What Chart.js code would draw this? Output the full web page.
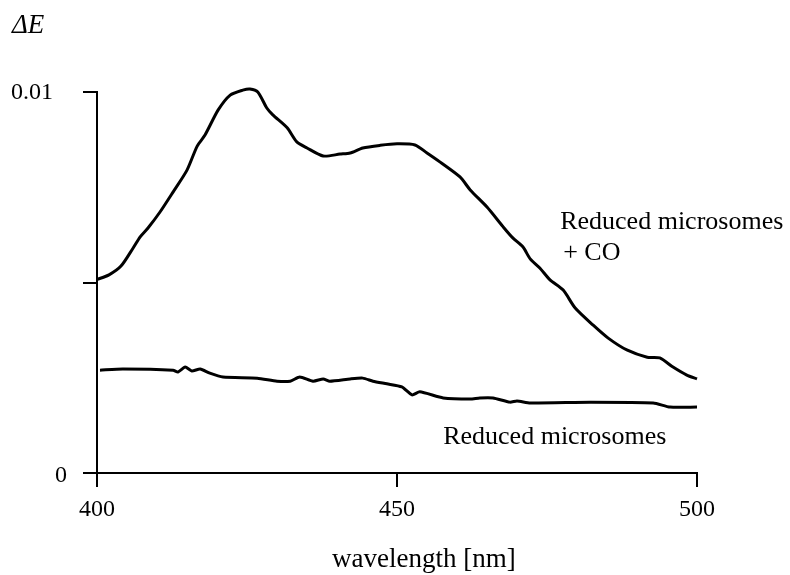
<!DOCTYPE html>
<html>
<head>
<meta charset="utf-8">
<script src="https://cdn.jsdelivr.net/npm/chart.js@4"></script>
<style>
  html, body { margin: 0; padding: 0; background: #fff; }
  #wrap { width: 790px; height: 575px; position: relative; }
</style>
</head>
<body>
<div id="wrap"><canvas id="c" width="790" height="575"></canvas></div>
<script>
// Reduced microsomes + CO
const coWavelength = [400, 402, 404, 406, 407.2, 408.5, 410.5, 412.7, 415, 416.7, 418, 420.2, 422.2, 424.3, 425.5, 426.8, 428.3, 429.3, 431.7, 433.3, 435, 437.7, 440.5, 442.2, 444.3, 447.2, 450, 453, 455, 457.2, 460.5, 462.2, 465, 467.7, 469.3, 471, 472.2, 473.8, 475.5, 477.7, 479.7, 482.7, 485.2, 488.3, 491.7, 493.8, 496, 498.3, 500];
const coValues = [0.00508, 0.00520, 0.00543, 0.00590, 0.00620, 0.00643, 0.00685, 0.00738, 0.00795, 0.00858, 0.00887, 0.00953, 0.00992, 0.01005, 0.01008, 0.01000, 0.00958, 0.00940, 0.00906, 0.00869, 0.00853, 0.00832, 0.00837, 0.00840, 0.00853, 0.00860, 0.00864, 0.00861, 0.00840, 0.00816, 0.00777, 0.00743, 0.00698, 0.00646, 0.00617, 0.00593, 0.00562, 0.00538, 0.00507, 0.00480, 0.00433, 0.00388, 0.00354, 0.00323, 0.00304, 0.00302, 0.00278, 0.00257, 0.00247];
// Reduced microsomes
const redWavelength = [400.5, 404.3, 412.7, 413.5, 414.7, 415.8, 417.2, 418.8, 421, 426.7, 430, 432.2, 433.8, 436, 437.7, 438.8, 442.2, 444.3, 446, 448.3, 450.8, 452.5, 453.8, 457.7, 462.2, 463.8, 466, 468.8, 470, 472.2, 482.2, 492.7, 495.5, 500];
const redValues = [0.00270, 0.00273, 0.00270, 0.00265, 0.00278, 0.00268, 0.00273, 0.00262, 0.00252, 0.00249, 0.00241, 0.00241, 0.00252, 0.00241, 0.00247, 0.00241, 0.00247, 0.00249, 0.00241, 0.00234, 0.00226, 0.00205, 0.00213, 0.00197, 0.00194, 0.00197, 0.00197, 0.00186, 0.00189, 0.00184, 0.00186, 0.00184, 0.00173, 0.00173];

const xTickValues = [400, 450, 500];
const xTickLabels = ['400', '450', '500'];
const yTickValues = [0, 0.005, 0.01];
const yTickLabels = ['0', '', '0.01'];
const seriesLabels = ['Reduced microsomes', '+ CO', 'Reduced microsomes'];
const xTitle = 'wavelength [nm]';
const yTitle = 'ΔE';

const SERIF = '"Liberation Serif", "DejaVu Serif", serif';

function pts(xs, ys) { return xs.map((x, i) => ({ x: x, y: ys[i] })); }

const textPlugin = {
  id: 'texts',
  afterDraw(chart) {
    const ctx = chart.ctx;
    const xs = chart.scales.x, ys = chart.scales.y;
    ctx.save();
    ctx.fillStyle = '#000';
    ctx.textBaseline = 'middle';
    // y tick labels
    ctx.font = '24px ' + SERIF;
    ctx.textAlign = 'right';
    yTickValues.forEach((v, i) => {
      if (!yTickLabels[i]) return;
      const y = ys.getPixelForValue(v);
      const xr = (v === 0) ? xs.left - 30 : xs.left - 44;
      ctx.fillText(yTickLabels[i], xr, y + (v === 0 ? 3 : 1));
    });
    // x tick labels
    ctx.textAlign = 'center';
    xTickValues.forEach((v, i) => {
      ctx.fillText(xTickLabels[i], xs.getPixelForValue(v), ys.bottom + 37);
    });
    // axis titles
    ctx.font = '27px ' + SERIF;
    ctx.textAlign = 'left';
    ctx.fillText(xTitle, xs.left + 235, ys.bottom + 87);
    ctx.font = 'italic 27px ' + SERIF;
    ctx.fillText(yTitle, 12, 26);
    // series labels
    ctx.font = '26px ' + SERIF;
    ctx.fillText(seriesLabels[0], xs.getPixelForValue(477.2), ys.getPixelForValue(0.00658));
    ctx.fillText(seriesLabels[1], xs.getPixelForValue(477.7), ys.getPixelForValue(0.00577));
    ctx.fillText(seriesLabels[2], xs.getPixelForValue(457.7), ys.getPixelForValue(0.00095));
    ctx.restore();
  }
};

new Chart(document.getElementById('c'), {
  type: 'line',
  data: {
    datasets: [
      { label: 'CO', data: pts(coWavelength, coValues), borderColor: '#000', borderWidth: 3, pointRadius: 0, tension: 0.25, clip: false, fill: false },
      { label: 'Reduced', data: pts(redWavelength, redValues), borderColor: '#000', borderWidth: 3, pointRadius: 0, tension: 0.2, clip: false, fill: false }
    ]
  },
  options: {
    responsive: false,
    animation: false,
    devicePixelRatio: 1,
    layout: { padding: { left: 83, top: 92, right: 93, bottom: 88 } },
    plugins: { legend: { display: false }, tooltip: { enabled: false } },
    scales: {
      x: {
        type: 'linear', min: 400, max: 500,
        afterBuildTicks: (s) => { s.ticks = xTickValues.map(v => ({ value: v })); },
        ticks: { display: false },
        grid: { display: true, drawOnChartArea: false, drawTicks: true, tickLength: 14, color: '#000', lineWidth: 2 },
        border: { display: true, color: '#000', width: 2 }
      },
      y: {
        type: 'linear', min: 0, max: 0.01,
        afterBuildTicks: (s) => { s.ticks = yTickValues.map(v => ({ value: v })); },
        ticks: { display: false },
        grid: { display: true, drawOnChartArea: false, drawTicks: true, tickLength: 14, color: '#000', lineWidth: 2 },
        border: { display: true, color: '#000', width: 2 }
      }
    }
  },
  plugins: [textPlugin]
});
</script>
</body>
</html>
